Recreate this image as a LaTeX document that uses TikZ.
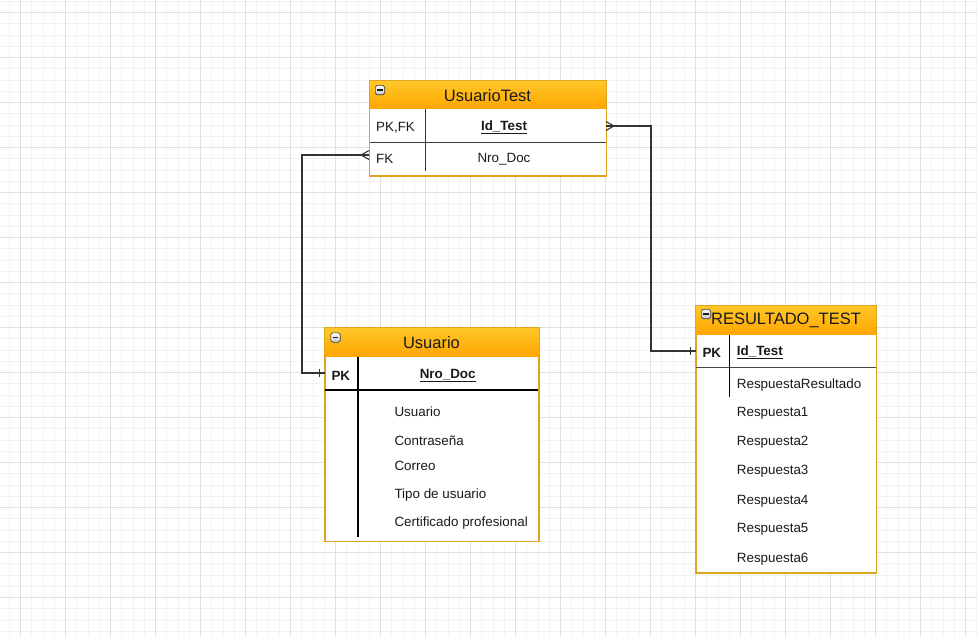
\documentclass[tikz,border=0pt]{standalone}
\usepackage{fontspec}
\setmainfont{Liberation Sans}
\usetikzlibrary{calc}
\definecolor{minorgrid}{HTML}{F3F3F3}
\definecolor{majorgrid}{HTML}{E0E0E0}
\definecolor{hdrtop}{HTML}{FFC82A}
\definecolor{hdrbot}{HTML}{FFA500}
\definecolor{tblborder}{HTML}{DDA520}
\definecolor{txt}{HTML}{1A1A1A}
\definecolor{connc}{HTML}{333333}
\begin{document}
\begin{tikzpicture}[x=1pt,y=-1pt,
  tbl/.style={draw=tblborder, line width=1pt, fill=white, inner sep=0pt, anchor=north west},
  hdr/.style={top color=hdrtop, bottom color=hdrbot, draw=none, inner sep=0pt, anchor=north west,
    font=\fontsize{16.5}{19}\selectfont, text=txt},
  hdrtext/.style={inner sep=0pt, font=\fontsize{16.5}{19}\selectfont, text=txt},
  rowline/.style={inner sep=0pt, minimum height=0pt},
  fld/.style={inner sep=0pt, font=\fontsize{13.4}{16}\selectfont, text=txt, yshift=-1.5pt},
  conn/.style={draw=connc, line width=1.3pt},
  sepline/.style={line width=1.2pt, draw=#1},
  pics/collapse/.style={code={
    \filldraw[draw=gray!60!black, line width=0.6pt, top color=white, bottom color=gray!45, rounded corners=1.8pt] (-4.7,-4.7) rectangle (4.7,4.7);
    \draw[line width=1.8pt, gray!20!black] (-2.8,0) -- (2.8,0);
  }}
]
\useasboundingbox (0,0) rectangle (977,637);
\fill[white] (0,0) rectangle (977,637);
% grid
\foreach \i in {0,...,88} \draw[minorgrid, line width=0.6pt] ({-2+\i*11.25},0) -- ({-2+\i*11.25},637);
\foreach \i in {0,...,57} \draw[minorgrid, line width=0.6pt] (0,{1.05+\i*11.25}) -- (977,{1.05+\i*11.25});
\foreach \i in {0,...,21} \draw[majorgrid, line width=0.8pt] ({20.5+\i*45},0) -- ({20.5+\i*45},637);
\foreach \i in {0,...,14} \draw[majorgrid, line width=0.8pt] (0,{12.3+\i*45}) -- (977,{12.3+\i*45});

% ---------- UsuarioTest ----------
\node[tbl, minimum width=236.5pt, minimum height=95pt] (ut) at (369.3,80) {};
\node[hdr, minimum width=236.5pt, minimum height=28.5pt] (uth) at (ut.north west) {};
\node[hdrtext] (utt) at (487.5,95.5) {UsuarioTest};
\draw[sepline=gray!45!black] (369.3,142.7) -- (605.8,142.7);
\draw[line width=1.2pt, black!80] (425.7,108.5) -- (425.7,170.5);
\node[fld, anchor=west] (utpk) at (376,126) {PK,FK};
\node[fld] (utid) at (504,126) {\textbf{\underline{Id\_Test}}};
\node[fld, anchor=west] (utfk) at (376,157.5) {FK};
\node[fld] (utnd) at (504,157.5) {Nro\_Doc};
\draw[tblborder, line width=1pt] (ut.north west) rectangle (ut.south east);
\pic at (380,90) {collapse};
\node[rowline, minimum width=236.5pt] (utr1) at (487.5,126) {};
\node[rowline, minimum width=236.5pt] (utr2) at (487.5,155) {};

% ---------- Usuario ----------
\node[tbl, minimum width=213.5pt, minimum height=213.5pt] (us) at (324.7,327.3) {};
\node[hdr, minimum width=213.5pt, minimum height=29pt] (ush) at (us.north west) {};
\node[hdrtext] (ust) at (431.5,342.5) {Usuario};
\draw[sepline=black] (324.7,390) -- (538.2,390);
\draw[line width=1.2pt, black] (358,356.5) -- (358,537);
\node[fld, anchor=west] (uspk) at (331.3,374) {\textbf{PK}};
\node[fld] (usnd) at (447.7,374) {\textbf{\underline{Nro\_Doc}}};
\node[fld, anchor=west] (usf1) at (394.3,410) {Usuario};
\node[fld, anchor=west] (usf2) at (394.3,439) {Contraseña};
\node[fld, anchor=west] (usf3) at (394.3,464) {Correo};
\node[fld, anchor=west] (usf4) at (394.3,493.3) {Tipo de usuario};
\node[fld, anchor=west] (usf5) at (394.3,522) {Certificado profesional};
\draw[tblborder, line width=1pt] (us.north west) rectangle (us.south east);
\pic at (335.5,337.5) {collapse};
\node[rowline, minimum width=213.5pt] (usr1) at (431.5,373) {};

% ---------- RESULTADO_TEST ----------
\node[tbl, minimum width=180pt, minimum height=267pt] (rt) at (695.7,305) {};
\node[hdr, minimum width=180pt, minimum height=29.5pt] (rth) at (rt.north west) {};
\node[hdrtext] (rtt) at (786,320.5) {RESULTADO\_TEST};
\draw[line width=1.6pt, gray!55!black] (695.7,367.5) -- (875.7,367.5);
\draw[line width=1.2pt, black] (729.3,334.5) -- (729.3,397);
\node[fld, anchor=west] (rtpk) at (702.3,351) {\textbf{PK}};
\node[fld, anchor=west] (rtid) at (736.7,351) {\textbf{\underline{Id\_Test}}};
\node[fld, anchor=west] (rtf0) at (736.7,383.3) {RespuestaResultado};
\node[fld, anchor=west] (rtf1) at (736.7,412) {Respuesta1};
\node[fld, anchor=west] (rtf2) at (736.7,441) {Respuesta2};
\node[fld, anchor=west] (rtf3) at (736.7,470) {Respuesta3};
\node[fld, anchor=west] (rtf4) at (736.7,499.5) {Respuesta4};
\node[fld, anchor=west] (rtf5) at (736.7,528) {Respuesta5};
\node[fld, anchor=west] (rtf6) at (736.7,558) {Respuesta6};
\draw[tblborder, line width=1pt] (rt.north west) rectangle (rt.south east);
\pic at (706,314) {collapse};
\node[rowline, minimum width=180pt] (rtr1) at (785.7,351) {};

% ---------- connectors ----------
\coordinate (c1) at (302,155);
\coordinate (c2) at (651,126);
\draw[conn] (utr2.west) -- (c1) |- (usr1.west);
\draw[conn] (utr1.east) -- (c2) |- (rtr1.west);
% crow's feet (many)
\draw[conn, line width=1.1pt] (utr2.west) ++(0,-4.5) -- ++(-8,4.5) -- ++(8,4.5);
\draw[conn, line width=1.1pt] (utr1.east) ++(0,-4.5) -- ++(8,4.5) -- ++(-8,4.5);
% one bars
\draw[conn, line width=1.1pt] (usr1.west) ++(-5,-4) -- ++(0,8);
\draw[conn, line width=1.1pt] (rtr1.west) ++(-5,-4) -- ++(0,8);
\end{tikzpicture}
\end{document}
